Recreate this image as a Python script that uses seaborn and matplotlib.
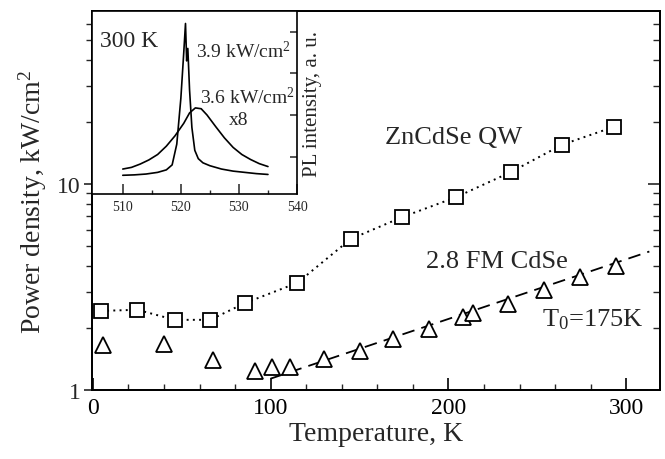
import numpy as np
import pandas as pd
import matplotlib
matplotlib.use("Agg")
import matplotlib.pyplot as plt
from matplotlib.ticker import MultipleLocator, LogLocator, NullFormatter, FixedLocator
import seaborn as sns

# ---------------- data ----------------
qw_T = [4.5, 25, 46, 66, 85.5, 115, 145, 174, 204, 235, 264, 293]
qw_P = [2.42, 2.45, 2.19, 2.19, 2.64, 3.31, 5.4, 6.9, 8.6, 11.4, 15.5, 18.9]

cdse_T = [5.6, 40, 67.5, 91, 100.7, 111, 130, 150, 169, 189, 208, 214, 233.5, 254, 274, 294]
cdse_P = [1.65, 1.67, 1.40, 1.23, 1.29, 1.29, 1.42, 1.55, 1.77, 1.98, 2.26, 2.36, 2.60, 3.07, 3.52, 4.0]

# exponential guide line P = A*exp(T/T_line) as drawn in the figure
fit_T_line = 150.0
fit_A = 0.583
fit_Tmin, fit_Tmax = 100, 313

# inset spectra
narrow_wl = [510, 512, 514, 516, 517.5, 518.5, 519.3, 520.0, 520.5, 520.8, 521.0, 521.2, 521.5,
             521.9, 522.4, 523.0, 523.8, 525, 527, 529, 531, 533, 535]
narrow_I = [0.55, 0.56, 0.58, 0.62, 0.68, 0.80, 1.3, 2.4, 3.5, 4.2, 3.3, 3.6, 2.6,
            1.7, 1.15, 0.95, 0.85, 0.78, 0.70, 0.65, 0.62, 0.59, 0.57]
broad_wl = [510, 511.5, 513, 514.5, 516, 517.5, 519, 520.5, 521.5, 522.5, 523.5, 524.5, 526,
            527.5, 529, 530.5, 532, 533.5, 535]
broad_I = [0.70, 0.74, 0.82, 0.92, 1.05, 1.25, 1.50, 1.80, 2.05, 2.17, 2.15, 2.0, 1.72,
           1.45, 1.22, 1.05, 0.93, 0.83, 0.76]

# ---------------- style ----------------
sns.set_theme(style="ticks")
plt.rcParams['font.family'] = ['Liberation Serif', 'DejaVu Serif']
plt.rcParams['mathtext.fontset'] = 'custom'
plt.rcParams['mathtext.rm'] = 'Liberation Serif'
plt.rcParams['mathtext.it'] = 'Liberation Serif:italic'
plt.rcParams['axes.linewidth'] = 1.3

fig = plt.figure(figsize=(6.65, 4.6), dpi=100)
ax = fig.add_axes([92/665, 1-391/460, (660-92)/665, (391-12)/460])

df_qw = pd.DataFrame({"T": qw_T, "P": qw_P})
df_cd = pd.DataFrame({"T": cdse_T, "P": cdse_P})
fit_T = np.linspace(fit_Tmin, fit_Tmax, 50)
df_fit = pd.DataFrame({"T": fit_T, "P": fit_A * np.exp(fit_T / fit_T_line)})

sns.lineplot(data=df_qw, x="T", y="P", ax=ax, color="black", linestyle=(0, (1, 2.2)), lw=1.4,
             marker="s", markersize=10, markerfacecolor="white", markeredgecolor="black",
             markeredgewidth=1.3)
sns.lineplot(data=df_fit, x="T", y="P", ax=ax, color="black", linestyle=(0, (7, 4)), lw=1.3)
sns.lineplot(data=df_cd, x="T", y="P", ax=ax, color="black", linestyle="none",
             marker="^", markersize=11, markerfacecolor="white", markeredgecolor="black",
             markeredgewidth=1.3)

ax.set_yscale("log")
ax.set_xlim(-0.5, 319)
ax.set_ylim(1, 69)
ax.xaxis.set_major_locator(FixedLocator([0, 100, 200, 300]))
ax.xaxis.set_minor_locator(MultipleLocator(20))
ax.yaxis.set_major_locator(FixedLocator([1, 10]))
ax.yaxis.set_minor_locator(LogLocator(base=10, subs=np.arange(2, 10)))
ax.yaxis.set_minor_formatter(NullFormatter())
ax.set_yticklabels(["1", "10"])
ax.tick_params(axis="x", which="major", direction="in", length=9, width=1.2, labelsize=17, pad=5, colors="black")
ax.tick_params(axis="x", which="minor", direction="in", length=4, width=1.0)
ax.tick_params(axis="y", which="major", direction="out", length=6, width=1.2, labelsize=17, pad=2)
ax.tick_params(axis="y", which="minor", direction="out", length=4, width=1.0)
ax.set_xlabel("Temperature, K", fontsize=20, labelpad=2)
ax.set_ylabel("Power density, kW/cm$^2$", fontsize=20, labelpad=6)
for s in ax.spines.values():
    s.set_color("black")

ax2 = ax.twinx()
ax2.set_yscale("log")
ax2.set_ylim(ax.get_ylim())
ax2.yaxis.set_major_locator(FixedLocator([1, 10]))
ax2.yaxis.set_minor_locator(LogLocator(base=10, subs=np.arange(2, 10)))
ax2.tick_params(axis="y", which="both", direction="in", labelright=False)
ax2.tick_params(axis="y", which="major", length=9, width=1.2)
ax2.tick_params(axis="y", which="minor", length=5, width=1.0)
for s in ax2.spines.values():
    s.set_color("black")

ax.text(203, 16.9, "ZnCdSe QW", fontsize=19, ha="center", va="center")
ax.text(227, 4.23, "2.8 FM CdSe", fontsize=19, ha="center", va="center")
ax.text(281, 2.21, "T$_0$=175K", fontsize=19, ha="center", va="center")

# ---------------- inset ----------------
ins = fig.add_axes([92/665, 1-195/460, (297-92)/665, (195-12)/460])
ins.set_facecolor("white")
sns.lineplot(x=narrow_wl, y=narrow_I, ax=ins, color="black", lw=1.2, sort=False)
sns.lineplot(x=broad_wl, y=broad_I, ax=ins, color="black", lw=1.2, sort=False)
ins.set_xlim(504.7, 540)
ins.set_ylim(0.1, 4.5)
ins.xaxis.set_major_locator(FixedLocator([510, 520, 530, 540]))
ins.xaxis.set_minor_locator(FixedLocator([515, 525, 535]))
ins.yaxis.set_major_locator(FixedLocator([1, 2, 3, 4]))
ins.yaxis.tick_right()
ins.yaxis.set_label_position("right")
ins.tick_params(axis="y", which="major", direction="in", length=5, width=1.1, labelright=False, left=False)
ins.tick_params(axis="x", which="major", direction="in", length=7, width=1.1, labelsize=10, pad=4)
ins.tick_params(axis="x", which="minor", direction="in", length=3, width=1.0)
ins.set_ylabel("PL intensity, a. u.", fontsize=15, labelpad=4, rotation=90)
for s in ins.spines.values():
    s.set_color("black")
    s.set_linewidth(1.2)

ins.text(506.1, 3.8, "300 K", fontsize=17, ha="left", va="center")
ins.text(522.6, 3.55, "3.9 kW/cm$^2$", fontsize=14, ha="left", va="center")
ins.text(523.3, 2.45, "3.6 kW/cm$^2$", fontsize=14, ha="left", va="center")
ins.text(530, 1.9, "x8", fontsize=14, ha="center", va="center")

fig.savefig("out.png", dpi=100)
